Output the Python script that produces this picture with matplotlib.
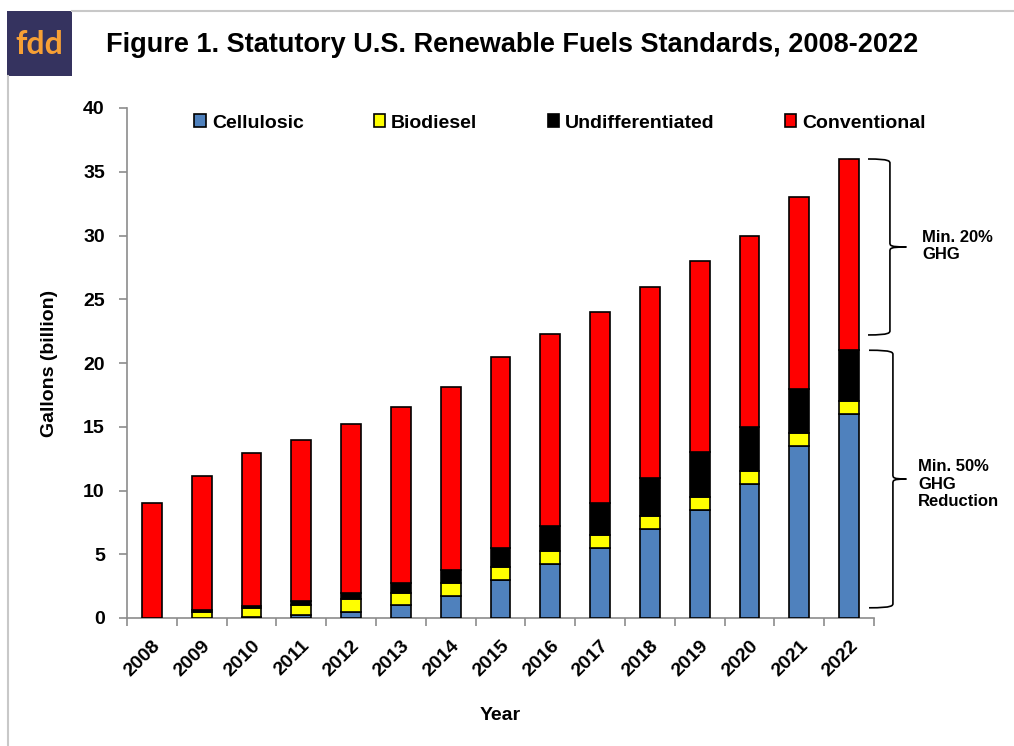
import matplotlib
matplotlib.use("Agg")

import matplotlib.pyplot as plt
from matplotlib.patches import Rectangle, PathPatch
from matplotlib.path import Path
from matplotlib.lines import Line2D
import numpy as np

plt.rcParams["font.family"] = ["Liberation Sans", "DejaVu Sans"]

# ------------------------------------------------------------------ data --
years = [str(y) for y in range(2008, 2023)]
cellulosic = [0, 0, 0.1, 0.25, 0.5, 1.0, 1.75, 3.0, 4.25, 5.5, 7.0, 8.5, 10.5, 13.5, 16.0]
biodiesel = [0, 0.5, 0.65, 0.8, 1.0, 1.0, 1.0, 1.0, 1.0, 1.0, 1.0, 1.0, 1.0, 1.0, 1.0]
undiff = [0, 0.1, 0.2, 0.3, 0.5, 0.75, 1.0, 1.5, 2.0, 2.5, 3.0, 3.5, 3.5, 3.5, 4.0]
conventional = [9.0, 10.5, 12.0, 12.6, 13.2, 13.8, 14.4, 15, 15, 15, 15, 15, 15, 15, 15]

series = [("Cellulosic", cellulosic, "#4f81bd"),
          ("Biodiesel", biodiesel, "#ffff00"),
          ("Undifferentiated", undiff, "#000000"),
          ("Conventional", conventional, "#ff0000")]

GRAY = "#8c8c8c"
W, H = 1014, 746
FS = 14

fig = plt.figure(figsize=(W / 100, H / 100), dpi=100)
fig.patch.set_facecolor("white")

# ---------------------------------------------------------------- frame --
fig.add_artist(Line2D([72 / W, 1], [1 - 11 / H, 1 - 11 / H], color="#c8c8c8", lw=1.5))
fig.add_artist(Line2D([8 / W, 8 / W], [0, 1 - 76 / H], color="#c8c8c8", lw=1.5))
fig.add_artist(Rectangle((7 / W, 1 - 76 / H), 65 / W, 65 / H, transform=fig.transFigure,
                         facecolor="#35335f", edgecolor="none"))
fig.text(39.5 / W, 1 - 45 / H, "fdd", color="#f7a035", fontsize=23, ha="center",
         va="center", fontweight="bold", family=["Lato", "DejaVu Sans"])

fig.text(512 / W, 1 - 45 / H, "Figure 1. Statutory U.S. Renewable Fuels Standards, 2008-2022",
         fontsize=19.5, fontweight="bold", ha="center", va="center",
         family=["Liberation Sans Narrow", "Liberation Sans", "DejaVu Sans"])

# ----------------------------------------------------------------- axes --
ax = fig.add_axes([127 / W, 1 - 618 / H, (874 - 127) / W, (618 - 108) / H])
x = np.arange(len(years))
bottom = np.zeros(len(years))
for name, vals, col in series:
    ax.bar(x, vals, 0.4, bottom=bottom, color=col, edgecolor="black", lw=1.2,
           label=name, zorder=3)
    bottom += np.array(vals)

ax.set_xlim(-0.5, len(years) - 0.5)
ax.set_ylim(0, 40)
ax.set_yticks(range(0, 41, 5))
ax.set_xticks(x)
ax.set_xticklabels(years, rotation=45, ha="right", rotation_mode="anchor")
ax.set_xticks(np.arange(-0.5, len(years), 1), minor=True)
ax.tick_params(axis="x", which="major", length=0, pad=14)
ax.tick_params(axis="x", which="minor", length=6, color=GRAY, width=1.2)
ax.tick_params(axis="y", length=6, color=GRAY, width=1.2, pad=10)
for lab in ax.get_xticklabels() + ax.get_yticklabels():
    lab.set_fontsize(FS)
    lab.set_fontweight("bold")
for s in ["top", "right"]:
    ax.spines[s].set_visible(False)
for s in ["left", "bottom"]:
    ax.spines[s].set_color(GRAY)
    ax.spines[s].set_linewidth(1.2)

ax.set_ylabel("Gallons (billion)", fontsize=FS, fontweight="bold", labelpad=18)
fig.text(500 / W, 1 - 716 / H, "Year", fontsize=FS, fontweight="bold",
         ha="center", va="center")

fig.legend(loc="center", bbox_to_anchor=(560 / W, 1 - 123 / H), ncol=4,
           frameon=False, prop={"size": FS, "weight": "bold"},
           handlelength=0.6, handleheight=0.6, handletextpad=0.3,
           columnspacing=3.6)


# --------------------------------------------------------------- braces --
def brace(ax, x0, x1, xt, y0, y1, r=0.35):
    """Right-pointing curly brace from y0 (top) to y1 (bottom) in data units."""
    ym = (y0 + y1) / 2
    verts = [(x0, y0), (x1, y0), (x1, y0 - r * 0.5), (x1, y0 - r),
             (x1, ym + r),
             (x1, ym + r * 0.3), (x1, ym), (xt, ym),
             (x1, ym), (x1, ym - r * 0.3), (x1, ym - r),
             (x1, y1 + r),
             (x1, y1 + r * 0.5), (x1, y1), (x0, y1)]
    codes = [Path.MOVETO, Path.CURVE4, Path.CURVE4, Path.CURVE4,
             Path.LINETO,
             Path.CURVE4, Path.CURVE4, Path.CURVE4,
             Path.CURVE4, Path.CURVE4, Path.CURVE4,
             Path.LINETO,
             Path.CURVE4, Path.CURVE4, Path.CURVE4]
    ax.add_patch(PathPatch(Path(verts, codes), facecolor="none", edgecolor="black",
                           lw=1.2, clip_on=False, zorder=5))


brace(ax, 14.38, 14.82, 15.15, 36.0, 22.2)
brace(ax, 14.4, 14.88, 15.15, 21.0, 0.8)
ax.text(15.47, 29.2, "Min. 20%\nGHG", fontsize=12, fontweight="bold",
        ha="left", va="center", linespacing=1.2)
ax.text(15.39, 10.5, "Min. 50%\nGHG\nReduction", fontsize=12, fontweight="bold",
        ha="left", va="center", linespacing=1.2)

fig.savefig("out.png", dpi=100, facecolor="white")
